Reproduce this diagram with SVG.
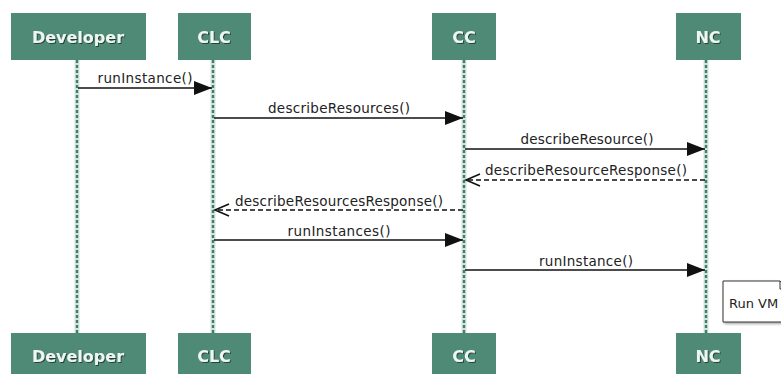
<svg xmlns="http://www.w3.org/2000/svg" width="781" height="374" viewBox="0 0 781 374">
<defs>
<filter id="ts" x="-10%" y="-30%" width="130%" height="160%">
<feDropShadow dx="1" dy="1" stdDeviation="0.6" flood-color="#1f3a31" flood-opacity="0.9"/>
</filter>
<filter id="ns" x="-10%" y="-10%" width="130%" height="130%">
<feDropShadow dx="1.5" dy="1.5" stdDeviation="1" flood-color="#000" flood-opacity="0.35"/>
</filter>
<marker id="solid" markerUnits="userSpaceOnUse" markerWidth="20" markerHeight="16" refX="18" refY="7" orient="auto">
<path d="M0,0 L18,7 L0,14 Z" fill="#111"/>
</marker>
<marker id="open" markerUnits="userSpaceOnUse" markerWidth="18" markerHeight="16" refX="15" refY="7" orient="auto">
<path d="M1,1 L15,7 L1,13" fill="none" stroke="#111" stroke-width="1.6"/>
</marker>
</defs>
<style>
.box{fill:#4f8a76;}
.bt{font-family:"DejaVu Sans",Verdana,sans-serif;font-weight:bold;font-size:16px;fill:#eef6f2;text-anchor:middle;filter:url(#ts);}
.ll{stroke:#4a7a6c;stroke-width:2.4;stroke-dasharray:3,2;fill:none;}
.llb{stroke:#cfe6df;stroke-width:5;fill:none;}
.msg{stroke:#111;stroke-width:1.7;fill:none;marker-end:url(#solid);}
.ret{stroke:#111;stroke-width:1.6;fill:none;stroke-dasharray:5,3;marker-end:url(#open);}
.lb{font-family:"DejaVu Sans",Verdana,sans-serif;font-size:13.5px;fill:#222;text-anchor:middle;}
.nt{font-family:"DejaVu Sans",Verdana,sans-serif;font-size:13px;fill:#222;}
</style>
<rect width="781" height="374" fill="#ffffff"/>
<g id="lifelines">
<line class="llb" x1="77" y1="60" x2="77" y2="333"/>
<line class="ll" x1="77" y1="60" x2="77" y2="333"/>
<line class="llb" x1="213" y1="60" x2="213" y2="333"/>
<line class="ll" x1="213" y1="60" x2="213" y2="333"/>
<line class="llb" x1="464" y1="60" x2="464" y2="333"/>
<line class="ll" x1="464" y1="60" x2="464" y2="333"/>
<line class="llb" x1="706" y1="60" x2="706" y2="333"/>
<line class="ll" x1="706" y1="60" x2="706" y2="333"/>
</g>
<g id="developer-top"><rect class="box" x="11" y="13" width="135" height="47"/><text class="bt" x="78" y="43">Developer</text></g>
<g id="clc-top"><rect class="box" x="178" y="13" width="73" height="47"/><text class="bt" x="214" y="43">CLC</text></g>
<g id="cc-top"><rect class="box" x="432" y="13" width="64" height="47"/><text class="bt" x="464" y="43">CC</text></g>
<g id="nc-top"><rect class="box" x="676" y="13" width="65" height="47"/><text class="bt" x="708" y="43">NC</text></g>
<g id="developer-bottom"><rect class="box" x="11" y="333" width="135" height="47"/><text class="bt" x="78" y="362">Developer</text></g>
<g id="clc-bottom"><rect class="box" x="178" y="333" width="73" height="47"/><text class="bt" x="214" y="362">CLC</text></g>
<g id="cc-bottom"><rect class="box" x="432" y="333" width="64" height="47"/><text class="bt" x="464" y="362">CC</text></g>
<g id="nc-bottom"><rect class="box" x="676" y="333" width="65" height="47"/><text class="bt" x="708" y="362">NC</text></g>
<g id="connectors">
<line class="msg" x1="78" y1="88" x2="212" y2="88"/>
<text class="lb" x="145" y="83" textLength="95" lengthAdjust="spacing">runInstance()</text>
<line class="msg" x1="214" y1="118" x2="463" y2="118"/>
<text class="lb" x="339" y="113" textLength="142" lengthAdjust="spacing">describeResources()</text>
<line class="msg" x1="465" y1="149" x2="705" y2="149"/>
<text class="lb" x="587" y="144" textLength="133" lengthAdjust="spacing">describeResource()</text>
<line class="ret" x1="705" y1="180" x2="466" y2="180"/>
<text class="lb" x="586" y="175" textLength="202" lengthAdjust="spacing">describeResourceResponse()</text>
<line class="ret" x1="463" y1="210" x2="215" y2="210"/>
<text class="lb" x="339" y="206" textLength="208" lengthAdjust="spacing">describeResourcesResponse()</text>
<line class="msg" x1="214" y1="240" x2="463" y2="240"/>
<text class="lb" x="339" y="236" textLength="103" lengthAdjust="spacing">runInstances()</text>
<line class="msg" x1="465" y1="270" x2="705" y2="270"/>
<text class="lb" x="586" y="266" textLength="94" lengthAdjust="spacing">runInstance()</text>
</g>
<g id="note">
<path d="M723,281 H780 L788,289 V322 H723 Z" fill="#fff" stroke="#333" stroke-width="1" filter="url(#ns)"/>
<path d="M780,281 V289 H788" fill="none" stroke="#333" stroke-width="1"/>
<text class="nt" x="729" y="308">Run VM</text>
</g>
</svg>
